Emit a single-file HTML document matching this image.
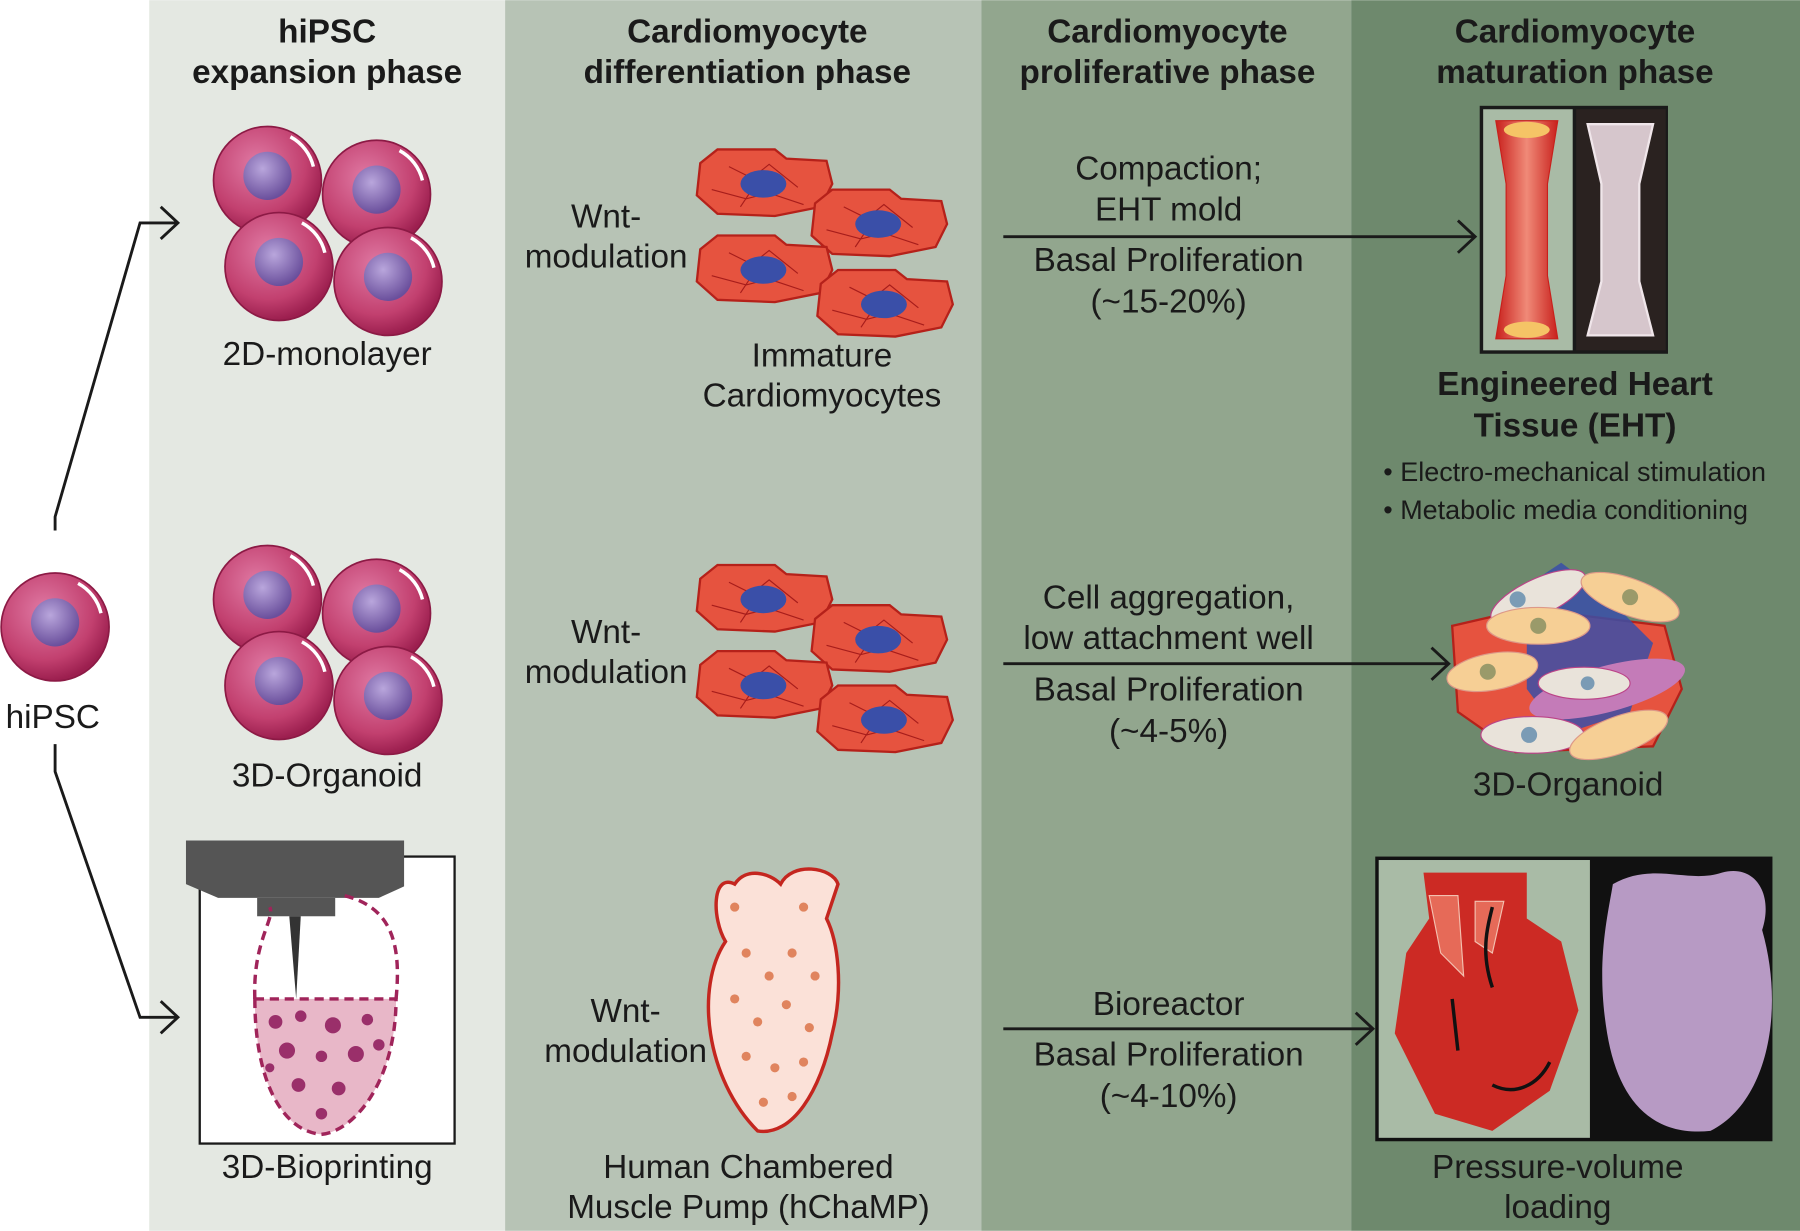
<!DOCTYPE html>
<html><head><meta charset="utf-8"><style>
html,body{margin:0;padding:0;background:#fff}
svg{display:block}
text{font-family:"Liberation Sans",Arial,sans-serif;fill:#1a1a1a}
</style></head><body>
<svg width="1800" height="1231" viewBox="0 0 1568 1072" xmlns="http://www.w3.org/2000/svg">
<defs>
<radialGradient id="cell" cx="40%" cy="35%" r="65%"><stop offset="0" stop-color="#e07aa4"/><stop offset="0.7" stop-color="#c2406f"/><stop offset="1" stop-color="#9c1f4f"/></radialGradient>
<radialGradient id="nuc" cx="40%" cy="35%" r="65%"><stop offset="0" stop-color="#b9a6dc"/><stop offset="1" stop-color="#6a4f9c"/></radialGradient>
<linearGradient id="eht" x1="0" y1="0" x2="1" y2="0"><stop offset="0" stop-color="#c8201c"/><stop offset="0.5" stop-color="#f08a78"/><stop offset="1" stop-color="#c8201c"/></linearGradient>
<g id="c"><circle r="47" fill="url(#cell)" stroke="#8c1a45" stroke-width="1.5"/><circle cx="0" cy="-4" r="21" fill="url(#nuc)"/><path d="M20,-38 A40,40 0 0 1 40,-12" stroke="#fff" stroke-width="3" fill="none"/></g>
<g id="cm"><path d="M-55,-18 L-40,-30 L10,-30 L20,-22 L55,-20 L60,0 L50,20 L10,28 L-40,26 L-58,10 Z" fill="#e6533f" stroke="#b5211a" stroke-width="2"/><path d="M-30,-15 l20,10 l15,-12 l25,20 M-45,5 l30,8 l20,-5 l30,10 M-20,20 l10,-15" stroke="#a71d1b" fill="none" stroke-width="1"/><ellipse cx="0" cy="0" rx="20" ry="12" fill="#3a4fa8"/></g>
<g id="cms"><use href="#cm" x="0" y="0"/><use href="#cm" x="100" y="35"/><use href="#cm" x="0" y="75"/><use href="#cm" x="105" y="105"/></g>
<g id="cells"><use href="#c" x="0" y="0"/><use href="#c" x="95" y="12"/><use href="#c" x="10" y="75"/><use href="#c" x="105" y="88"/></g>
</defs>
<rect x="0" y="0" width="1568" height="1072" fill="#fff"/>
<rect x="130" y="0" width="310" height="1072" fill="#e4e8e2"/>
<rect x="440" y="0" width="415" height="1072" fill="#b7c3b5"/>
<rect x="855" y="0" width="322" height="1072" fill="#92a68e"/>
<rect x="1177" y="0" width="391" height="1072" fill="#6e896d"/>

<g font-weight="bold" font-size="29" text-anchor="middle">
<text x="285" y="37">hiPSC</text><text x="285" y="72">expansion phase</text>
<text x="651" y="37">Cardiomyocyte</text><text x="651" y="72">differentiation phase</text>
<text x="1017" y="37">Cardiomyocyte</text><text x="1017" y="72">proliferative phase</text>
<text x="1372" y="37">Cardiomyocyte</text><text x="1372" y="72">maturation phase</text>
</g>

<use href="#c" x="48" y="546"/>
<text x="46" y="634" font-size="29" text-anchor="middle">hiPSC</text>
<g stroke="#1a1a1a" stroke-width="2.5" fill="none">
<path d="M48,462 L48,450 L122,194 L155,194"/><path d="M140,180 L155,194 L140,208"/>
<path d="M48,648 L48,672 L122,886 L155,886"/><path d="M140,872 L155,886 L140,900"/>
</g>

<use href="#cells" x="233" y="157"/>
<text x="285" y="318" font-size="29" text-anchor="middle">2D-monolayer</text>
<use href="#cells" x="233" y="522"/>
<text x="285" y="685" font-size="29" text-anchor="middle">3D-Organoid</text>

<rect x="174" y="746" width="222" height="250" fill="#fff" stroke="#1a1a1a" stroke-width="2"/>
<path d="M162,732 L352,732 L352,772 L330,782 L190,782 L162,770 Z" fill="#555"/>
<rect x="224" y="782" width="68" height="16" fill="#555"/>
<path d="M252,798 L258,870 L262,798 Z" fill="#333"/>
<path d="M222,870 L345,870 C345,940 310,985 280,988 C245,985 222,940 222,870 Z" fill="#e8b7c8" stroke="#a0245a" stroke-width="3" stroke-dasharray="8,5"/>
<path d="M222,870 C220,820 240,800 235,790 M345,870 C350,820 340,790 300,780" fill="none" stroke="#a0245a" stroke-width="3" stroke-dasharray="8,5"/>
<g fill="#9a2f6a"><circle cx="240" cy="890" r="6"/><circle cx="262" cy="885" r="5"/><circle cx="290" cy="893" r="7"/><circle cx="320" cy="888" r="5"/><circle cx="250" cy="915" r="7"/><circle cx="280" cy="920" r="5"/><circle cx="310" cy="918" r="7"/><circle cx="260" cy="945" r="6"/><circle cx="295" cy="948" r="6"/><circle cx="280" cy="970" r="5"/><circle cx="235" cy="930" r="4"/><circle cx="330" cy="910" r="5"/></g>
<text x="285" y="1026" font-size="29" text-anchor="middle">3D-Bioprinting</text>

<g font-size="29" text-anchor="middle">
<text x="528" y="198">Wnt-</text><text x="528" y="233">modulation</text>
<text x="528" y="560">Wnt-</text><text x="528" y="595">modulation</text>
<text x="545" y="890">Wnt-</text><text x="545" y="925">modulation</text>
<text x="716" y="319">Immature</text><text x="716" y="354">Cardiomyocytes</text>
<text x="652" y="1026">Human Chambered</text><text x="652" y="1061">Muscle Pump (hChaMP)</text>
</g>
<use href="#cms" x="665" y="160"/>
<use href="#cms" x="665" y="522"/>
<path d="M640,770 C620,760 620,800 632,820 C605,860 615,940 660,985 C690,990 715,950 725,900 C735,860 730,820 720,800 L730,770 C725,755 690,750 680,770 C670,760 650,755 640,770 Z" fill="#fbe1d8" stroke="#c4261f" stroke-width="3"/>
<g fill="#e0845e"><circle cx="650" cy="830" r="4"/><circle cx="670" cy="850" r="4"/><circle cx="690" cy="830" r="4"/><circle cx="710" cy="850" r="4"/><circle cx="640" cy="870" r="4"/><circle cx="660" cy="890" r="4"/><circle cx="685" cy="875" r="4"/><circle cx="705" cy="895" r="4"/><circle cx="650" cy="920" r="4"/><circle cx="675" cy="930" r="4"/><circle cx="700" cy="925" r="4"/><circle cx="665" cy="960" r="4"/><circle cx="690" cy="955" r="4"/><circle cx="640" cy="790" r="4"/><circle cx="700" cy="790" r="4"/></g>

<g font-size="29" text-anchor="middle">
<text x="1018" y="156">Compaction;</text><text x="1018" y="192">EHT mold</text>
<text x="1018" y="236">Basal Proliferation</text><text x="1018" y="272">(~15-20%)</text>
<text x="1018" y="530">Cell aggregation,</text><text x="1018" y="565">low attachment well</text>
<text x="1018" y="610">Basal Proliferation</text><text x="1018" y="646">(~4-5%)</text>
<text x="1018" y="884">Bioreactor</text>
<text x="1018" y="928">Basal Proliferation</text><text x="1018" y="964">(~4-10%)</text>
</g>
<g stroke="#1a1a1a" stroke-width="2.5" fill="none">
<path d="M874,206 L1285,206 M1270,192 L1285,206 L1270,220"/>
<path d="M874,578 L1262,578 M1247,564 L1262,578 L1247,592"/>
<path d="M874,896 L1196,896 M1181,882 L1196,896 L1181,910"/>
</g>

<rect x="1289" y="92" width="164" height="216" fill="#1a1a1a"/>
<rect x="1292" y="95" width="78" height="210" fill="#a9bba6"/>
<path d="M1303,105 L1357,105 L1348,160 L1348,240 L1357,295 L1303,295 L1312,240 L1312,160 Z" fill="url(#eht)" stroke="#c8201c"/>
<ellipse cx="1330" cy="113" rx="20" ry="7" fill="#f5c466"/><ellipse cx="1330" cy="287" rx="20" ry="7" fill="#f5c466"/>
<rect x="1373" y="95" width="78" height="210" fill="#2a2220"/>
<path d="M1383,108 L1440,108 L1428,160 L1428,245 L1440,292 L1383,292 L1395,245 L1395,160 Z" fill="#d6c6cc" stroke="#f0e6ea" stroke-width="2"/>
<g font-weight="bold" font-size="29" text-anchor="middle"><text x="1372" y="344">Engineered Heart</text><text x="1372" y="380">Tissue (EHT)</text></g>
<g font-size="23.5"><text x="1205" y="419">• Electro-mechanical stimulation</text><text x="1205" y="452">• Metabolic media conditioning</text></g>

<g>
<path d="M1265,545 L1330,530 L1450,545 L1465,600 L1440,650 L1320,655 L1270,620 Z" fill="#e6533f" stroke="#b5211a" stroke-width="2"/>
<path d="M1330,510 L1360,490 L1400,520 L1440,560 L1420,620 L1360,640 L1330,600 Z" fill="#3a4fa8" opacity="0.85"/>
<ellipse cx="1400" cy="600" rx="70" ry="20" fill="#c47bb8" transform="rotate(-15 1400 600)"/>
<ellipse cx="1340" cy="520" rx="45" ry="16" fill="#e9e3da" stroke="#b48" transform="rotate(-25 1340 520)"/>
<ellipse cx="1420" cy="520" rx="45" ry="16" fill="#f6cf95" stroke="#d98" transform="rotate(20 1420 520)"/>
<ellipse cx="1340" cy="545" rx="45" ry="16" fill="#f6cf95" stroke="#d98"/>
<ellipse cx="1300" cy="585" rx="40" ry="16" fill="#f6cf95" stroke="#d98" transform="rotate(-10 1300 585)"/>
<ellipse cx="1380" cy="595" rx="40" ry="14" fill="#e9e3da" stroke="#b48"/>
<ellipse cx="1335" cy="640" rx="45" ry="16" fill="#e9e3da" stroke="#b48"/>
<ellipse cx="1410" cy="640" rx="45" ry="16" fill="#f6cf95" stroke="#d98" transform="rotate(-20 1410 640)"/>
<g fill="#7a9bb5"><circle cx="1322" cy="522" r="7"/><circle cx="1332" cy="640" r="7"/><circle cx="1383" cy="595" r="6"/></g>
<g fill="#9a9a6a"><circle cx="1340" cy="545" r="7"/><circle cx="1296" cy="585" r="7"/><circle cx="1420" cy="520" r="7"/></g>
</g>
<text x="1366" y="693" font-size="29" text-anchor="middle">3D-Organoid</text>

<rect x="1198" y="746" width="346" height="248" fill="#111" />
<rect x="1201" y="749" width="184" height="242" fill="#a9bba6"/>
<path d="M1240,760 L1330,760 L1330,800 L1360,820 L1375,880 L1350,950 L1300,985 L1250,970 L1215,900 L1225,830 L1245,800 Z" fill="#cc2a24"/>
<path d="M1245,780 L1270,780 L1275,850 L1255,830 Z M1285,785 L1310,785 L1300,830 L1285,820 Z" fill="#e66a58" stroke="#f3c0b0"/>
<g stroke="#111" stroke-width="3" fill="none"><path d="M1300,860 C1290,830 1295,810 1300,790"/><path d="M1265,870 L1270,915"/><path d="M1300,945 C1320,955 1340,945 1350,925"/></g>
<path d="M1405,770 C1440,750 1470,770 1500,760 C1530,752 1545,780 1535,810 C1555,880 1540,960 1490,985 C1440,990 1410,960 1400,900 C1390,840 1400,800 1405,770 Z" fill="#b79ac4"/>
<g font-size="29" text-anchor="middle"><text x="1357" y="1026">Pressure-volume</text><text x="1357" y="1061">loading</text></g>
</svg>
</body></html>
